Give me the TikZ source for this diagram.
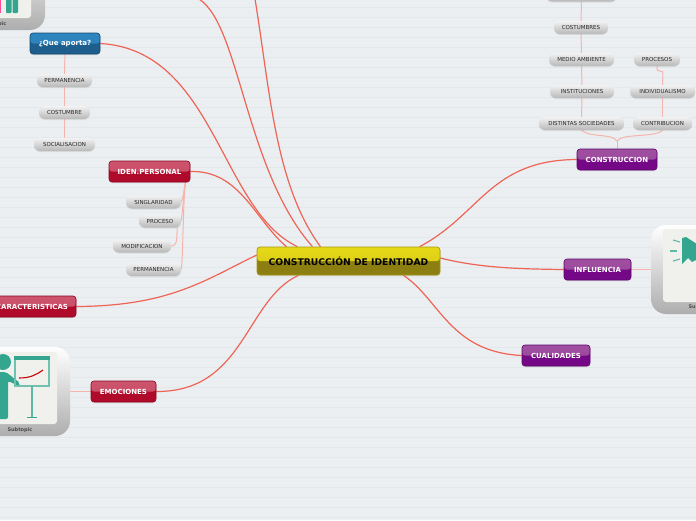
\documentclass[tikz,border=0pt]{standalone}
\usepackage{fontspec}
\setmainfont{DejaVu Sans}
\usetikzlibrary{backgrounds,shadows}
\definecolor{paper}{RGB}{235,239,241}
\definecolor{ruling}{RGB}{227,232,234}
\definecolor{mainline}{RGB}{238,100,86}
\definecolor{subline}{RGB}{245,180,172}
\definecolor{teal}{RGB}{52,166,143}
\definecolor{cardfill}{RGB}{240,241,236}
\definecolor{yellowtop}{RGB}{230,217,23}
\definecolor{yellowlow}{RGB}{140,126,16}
\definecolor{bluetop}{RGB}{47,134,191}
\definecolor{bluelow}{RGB}{29,94,140}
\definecolor{redtop}{RGB}{205,85,110}
\definecolor{redlow}{RGB}{176,10,42}
\definecolor{purpletop}{RGB}{160,80,160}
\definecolor{purplelow}{RGB}{117,8,135}
\tikzset{
  mapbox/.style 2 args={rounded corners=3, draw=#2!80!black, line width=.6pt, inner sep=0pt,
    minimum height=21, text=white, fill=#2, font=\fontsize{7}{8}\selectfont\bfseries,
    drop shadow={opacity=.25, shadow xshift=0pt, shadow yshift=-1pt},
    path picture={\shade[top color=#1, bottom color=#1!80!#2]
      (path picture bounding box.north west) rectangle (path picture bounding box.east);}},
  subbox/.style={rounded corners=6, inner sep=0pt, minimum height=13, text=black!85,
    top color=black!5, bottom color=black!28, font=\fontsize{5.5}{6}\selectfont,
    drop shadow={opacity=.15, shadow xshift=0pt, shadow yshift=-1pt}},
  iconbox/.style={rounded corners=15, inner sep=0pt, minimum width=90, minimum height=89,
    top color=white, bottom color=black!32},
  iconlabel/.style={text=black!70, font=\fontsize{5}{6}\selectfont\bfseries, inner sep=0pt},
  mainlink/.style={draw=mainline, line width=1.2pt},
  sublink/.style={draw=subline, line width=1pt}
}
\begin{document}
\begin{tikzpicture}[x=1pt,y=-1pt]
\useasboundingbox (0,0) rectangle (696,520);
\clip (0,0) rectangle (696,520);
% --- icon cards ---
\node[iconbox] (cardtop) at (0,-14.5) {};
\node[iconbox] (cardleft) at (25,391.5) {};
\node[iconbox] (cardright) at (696,269.5) {};
\fill[cardfill, rounded corners=3] (-20,-20) rectangle (31,18);
\fill[cardfill, rounded corners=3] (-20,352) rectangle (57,424);
\fill[cardfill, rounded corners=3] (663,229) rectangle (720,302);
\node[iconlabel] (labeltop) at (-6,24) {Subtopic};
\node[iconlabel] (labelleft) at (20,430) {Subtopic};
\node[iconlabel] (labelright) at (701,307.5) {Subtopic};
% bars, top card
\fill[red!60!magenta!70] (-4,-5) rectangle (1,13);
\fill[teal, rounded corners=1] (6,-5) rectangle (11.5,13);
\fill[teal, rounded corners=1] (12.5,-5) rectangle (18,13);
% presenter, left card
\fill[teal] (3,362) circle (8);
\fill[teal, rounded corners=2] (-6,372) -- (6,372) -- (20,383) -- (19,386) -- (8,381) -- (8,419) -- (-6,419) -- cycle;
\draw[teal!70, line width=1.2pt] (15,358) rectangle (49,386);
\fill[teal] (14,356) rectangle (50,360);
\draw[teal!80, line width=1.2pt] (32,386) -- (32,417);
\draw[teal, line width=1.6pt] (27,417.5) -- (37,417.5);
\draw[red!80!black, line width=1.1pt] (19,378) .. controls (30,378) and (36,375) .. (43,370);
% megaphone, right card
\fill[teal] (682,238) -- (686,237) -- (700,246) -- (700,258) -- (692,262) -- (688,258) -- (682,264) -- cycle;
\draw[teal!80, line width=1.1pt] (673,240) -- (680,242);
\draw[teal!80, line width=1.1pt] (670,251) -- (677,251);
\draw[teal!80, line width=1.1pt] (673,261) -- (680,259);
% --- main nodes ---
\node[mapbox={yellowtop}{yellowlow}, text=black, minimum width=183, minimum height=28,
  draw=yellowlow!70!yellowtop, font=\fontsize{9.2}{10}\selectfont\bfseries] (central) at (348.5,261) {CONSTRUCCIÓN DE IDENTIDAD};
\node[mapbox={bluetop}{bluelow}, minimum width=70] (aporta) at (65,43.5) {¿Que aporta?};
\node[mapbox={redtop}{redlow}, minimum width=81] (iden) at (149.5,171.5) {IDEN.PERSONAL};
\node[mapbox={redtop}{redlow}, minimum width=88] (carac) at (32,306.5) {CARACTERISTICAS};
\node[mapbox={redtop}{redlow}, minimum width=65] (emoc) at (123.5,391.5) {EMOCIONES};
\node[mapbox={purpletop}{purplelow}, minimum width=80] (constr) at (617,159.5) {CONSTRUCCION};
\node[mapbox={purpletop}{purplelow}, minimum width=67] (influ) at (597.5,269.5) {INFLUENCIA};
\node[mapbox={purpletop}{purplelow}, minimum width=68] (cuali) at (556,355.5) {CUALIDADES};
% --- sub nodes, left ---
\node[subbox, minimum width=55] (perm) at (64.5,80.5) {PERMANENCIA};
\node[subbox, minimum width=51] (costu) at (64.5,112.5) {COSTUMBRE};
\node[subbox, minimum width=61] (social) at (64.5,144.5) {SOCIALISACION};
\node[subbox, minimum width=55] (singl) at (153.5,202) {SINGLARIDAD};
\node[subbox, minimum width=42] (proce) at (160,221) {PROCESO};
\node[subbox, minimum width=58] (modif) at (142,246) {MODIFICACION};
\node[subbox, minimum width=55] (perma) at (153.5,269.5) {PERMANENCIA};
% --- sub nodes, right ---
\node[subbox, minimum width=71] (hidden) at (581.5,-5) {};
\node[subbox, minimum width=54] (costum) at (581,27.5) {COSTUMBRES};
\node[subbox, minimum width=65] (medio) at (581.5,59.5) {MEDIO AMBIENTE};
\node[subbox, minimum width=64] (instit) at (582,91.5) {INSTITUCIONES};
\node[subbox, minimum width=85] (distin) at (581.5,123.5) {DISTINTAS SOCIEDADES};
\node[subbox, minimum width=46] (procs) at (657,59.5) {PROCESOS};
\node[subbox, minimum width=65] (indiv) at (662.5,91.5) {INDIVIDUALISMO};
\node[subbox, minimum width=59] (contr) at (662.5,123.5) {CONTRIBUCION};
\coordinate (topone) at (199,-1);
\coordinate (toptwo) at (255,-1);
\coordinate (fork) at (617,141);
% --- paper and connectors behind the nodes ---
\begin{scope}[on background layer]
\fill[paper] (0,0) rectangle (696,520);
\foreach \y in {7,17,...,517}
  \draw[ruling, line width=.8pt] (0,\y) -- (696,\y);
\draw[mainlink] (topone) .. controls (240,25) and (245,170) .. ([xshift=-36]central.north);
\draw[mainlink] (toptwo) .. controls (270,90) and (275,185) .. ([xshift=-28]central.north);
\draw[mainlink] (aporta.east) .. controls (215,50) and (220,210) .. ([xshift=-51]central.north);
\draw[mainlink] (iden.east) .. controls (240,170) and (255,220) .. ([xshift=-62]central.north);
\draw[mainlink] (carac.east) .. controls (170,306) and (205,280) .. ([yshift=6]central.west);
\draw[mainlink] (emoc.east) .. controls (245,392) and (245,300) .. ([xshift=-50]central.south);
\draw[mainlink] (constr.west) .. controls (490,160) and (480,215) .. ([xshift=71]central.north);
\draw[mainlink] (influ.west) .. controls (520,269) and (480,268) .. ([yshift=3]central.east);
\draw[mainlink] (cuali.west) .. controls (450,352) and (440,300) .. ([xshift=55]central.south);
\draw[sublink] (aporta) -- (perm);
\draw[sublink] (perm) -- (costu);
\draw[sublink] (costu) -- (social);
\draw[sublink] ([xshift=36]iden.south) .. controls (184,190) and (184,195) .. (singl.east);
\draw[sublink] ([xshift=36]iden.south) .. controls (183,195) and (183,210) .. (proce.east);
\draw[sublink] ([xshift=17]proce.south) -- ([xshift=17,yshift=-5]proce.south) .. controls (177,244) and (175,246) .. (modif.east);
\draw[sublink] ([xshift=36]iden.south) .. controls (183,200) and (183,262) .. (perma.east);
\draw[sublink] (hidden) -- (costum);
\draw[sublink] (costum) -- (medio);
\draw[sublink] (medio) -- (instit);
\draw[sublink] (instit) -- (distin);
\draw[sublink] (constr.north) -- (fork);
\draw[sublink] (fork) .. controls (612,133) and (590,138) .. (distin.south);
\draw[sublink] (fork) .. controls (622,133) and (655,138) .. (contr.south);
\draw[sublink] (contr) -- (indiv);
\draw[sublink] (indiv.north) -- (663,72) -- (657,70) -- (procs.south);
\draw[sublink] (emoc.west) -- (cardleft.east);
\draw[sublink] (influ.east) -- (cardright.west);
\end{scope}
\end{tikzpicture}
\end{document}
